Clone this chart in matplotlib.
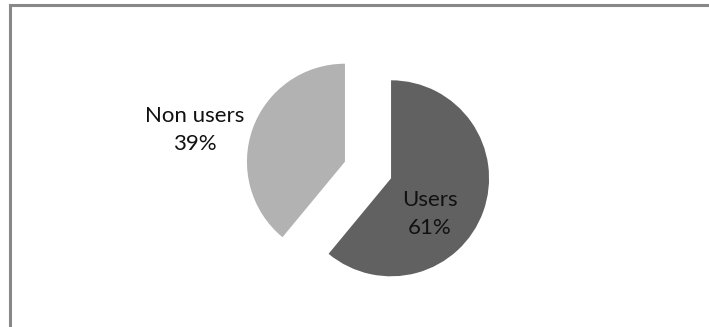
import matplotlib
matplotlib.use("Agg")
import matplotlib.pyplot as plt
from matplotlib.patches import Rectangle

categories = ["Users", "Non users"]
shares = [61, 39]
colors = ["#616161", "#b2b2b2"]

W, H = 709, 327
fig = plt.figure(figsize=(W / 100, H / 100), dpi=100)
ax = fig.add_axes([0, 0, 1, 1])

cx, cy, r = 368, H - 170, 98
# matplotlib's explode offset is in data units (here pixels)
ax.pie(shares, colors=colors, startangle=90, counterclock=False,
       explode=[0.25 * r, 0.25 * r], center=(cx, cy), radius=r, frame=True,
       wedgeprops=dict(linewidth=0))
ax.set_xlim(0, W)
ax.set_ylim(0, H)
ax.set_aspect("equal")
ax.axis("off")

# chart border (top and left visible)
ax.add_patch(Rectangle((10, -10), W + 20, H - 5 + 10, fill=False,
                       edgecolor="#888888", linewidth=2.2, clip_on=False))

font = ["Lato", "DejaVu Sans"]
ax.text(430, H - 214, f"{categories[0]}\n{shares[0]}%", ha="center", va="center",
        fontsize=16, family=font, color="#111111", linespacing=1.45)
ax.text(195, H - 130, f"{categories[1]}\n{shares[1]}%", ha="center", va="center",
        fontsize=16, family=font, color="#111111", linespacing=1.45)

fig.savefig("out.png", dpi=100)
